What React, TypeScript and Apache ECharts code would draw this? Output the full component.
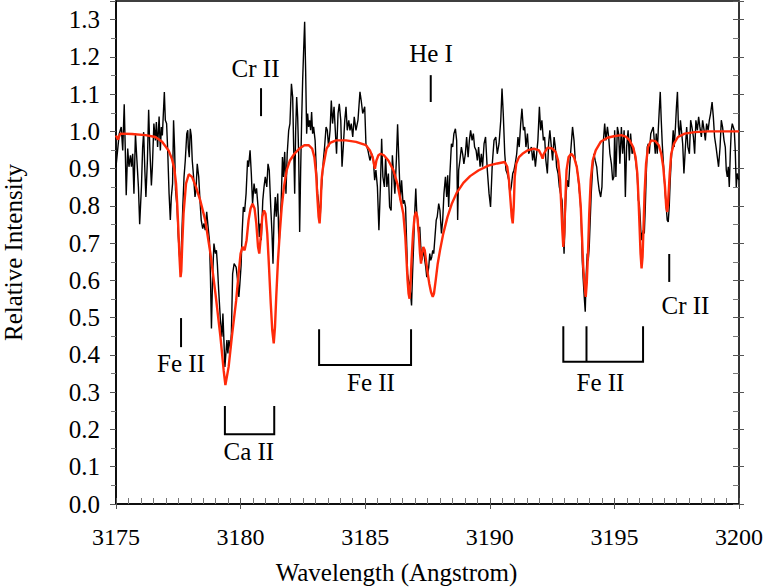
import React, { useEffect, useRef } from "react";
import * as echarts from "echarts";

// Observed spectrum (black)
const blackWl = [
  3175.00, 3175.13, 3175.21, 3175.27, 3175.33, 3175.37, 3175.41, 3175.47, 3175.52, 3175.58, 3175.62, 3175.67, 3175.72, 3175.78, 3175.84, 3175.90, 3175.95,
  3176.02, 3176.07, 3176.11, 3176.16, 3176.20, 3176.26, 3176.31, 3176.36, 3176.42, 3176.46, 3176.52, 3176.58, 3176.62, 3176.67, 3176.73, 3176.78, 3176.82, 3176.86, 3176.94, 3176.98,
  3177.03, 3177.07, 3177.13, 3177.18, 3177.22, 3177.27, 3177.31, 3177.35, 3177.39, 3177.45, 3177.50, 3177.54, 3177.58, 3177.62, 3177.68, 3177.73, 3177.78, 3177.84, 3177.88, 3177.90, 3177.94, 3177.98,
  3178.02, 3178.06, 3178.12, 3178.17, 3178.21, 3178.26, 3178.32, 3178.37, 3178.42, 3178.48, 3178.53, 3178.58, 3178.64, 3178.69, 3178.75, 3178.79, 3178.83, 3178.88, 3178.93, 3178.99,
  3179.03, 3179.07, 3179.12, 3179.19, 3179.25, 3179.29, 3179.33, 3179.37, 3179.41, 3179.45, 3179.49, 3179.53, 3179.59, 3179.63, 3179.68, 3179.74, 3179.82, 3179.88, 3179.93, 3179.97,
  3180.02, 3180.06, 3180.11, 3180.16, 3180.22, 3180.28, 3180.32, 3180.38, 3180.43, 3180.48, 3180.54, 3180.59, 3180.64, 3180.70, 3180.75, 3180.79, 3180.83, 3180.89, 3180.94, 3180.99,
  3181.05, 3181.10, 3181.15, 3181.21, 3181.26, 3181.30, 3181.34, 3181.39, 3181.43, 3181.49, 3181.54, 3181.58, 3181.63, 3181.68, 3181.72, 3181.77, 3181.82, 3181.87, 3181.93, 3181.98,
  3182.04, 3182.09, 3182.13, 3182.17, 3182.21, 3182.25, 3182.29, 3182.33, 3182.37, 3182.41, 3182.45, 3182.49, 3182.53, 3182.57, 3182.61, 3182.65, 3182.69, 3182.73, 3182.77, 3182.81, 3182.85, 3182.89, 3182.93, 3182.99,
  3183.04, 3183.09, 3183.15, 3183.19, 3183.23, 3183.27, 3183.32, 3183.37, 3183.43, 3183.48, 3183.53, 3183.59, 3183.64, 3183.69, 3183.75, 3183.80, 3183.85, 3183.91, 3183.96,
  3184.02, 3184.07, 3184.12, 3184.18, 3184.23, 3184.28, 3184.34, 3184.39, 3184.44, 3184.50, 3184.56, 3184.63, 3184.71, 3184.79, 3184.84, 3184.90, 3184.98,
  3185.03, 3185.11, 3185.19, 3185.26, 3185.33, 3185.38, 3185.43, 3185.49, 3185.55, 3185.61, 3185.66, 3185.71, 3185.77, 3185.82, 3185.87, 3185.93, 3185.98,
  3186.04, 3186.09, 3186.14, 3186.19, 3186.25, 3186.30, 3186.36, 3186.41, 3186.46, 3186.52, 3186.57, 3186.62, 3186.66, 3186.70, 3186.74, 3186.78, 3186.82, 3186.86, 3186.90, 3186.94, 3186.98,
  3187.03, 3187.07, 3187.11, 3187.15, 3187.19, 3187.23, 3187.27, 3187.31, 3187.35, 3187.39, 3187.43, 3187.47, 3187.51, 3187.55, 3187.59, 3187.63, 3187.67, 3187.71, 3187.75, 3187.80, 3187.85, 3187.89, 3187.95,
  3188.00, 3188.06, 3188.11, 3188.16, 3188.22, 3188.27, 3188.31, 3188.35, 3188.40, 3188.46, 3188.51, 3188.56, 3188.62, 3188.67, 3188.71, 3188.75, 3188.80, 3188.86, 3188.91, 3188.96,
  3189.02, 3189.07, 3189.13, 3189.18, 3189.23, 3189.29, 3189.34, 3189.39, 3189.45, 3189.50, 3189.55, 3189.61, 3189.66, 3189.71, 3189.77, 3189.83, 3189.90, 3189.97,
  3190.03, 3190.10, 3190.17, 3190.24, 3190.30, 3190.37, 3190.44, 3190.49, 3190.54, 3190.60, 3190.65, 3190.70, 3190.76, 3190.81, 3190.86, 3190.92, 3190.97,
  3191.02, 3191.08, 3191.13, 3191.18, 3191.24, 3191.29, 3191.35, 3191.40, 3191.45, 3191.51, 3191.56, 3191.61, 3191.67, 3191.72, 3191.77, 3191.83, 3191.88, 3191.93, 3191.99,
  3192.04, 3192.09, 3192.15, 3192.20, 3192.25, 3192.31, 3192.36, 3192.41, 3192.47, 3192.52, 3192.58, 3192.63, 3192.68, 3192.74, 3192.79, 3192.84, 3192.90, 3192.94, 3192.98,
  3193.02, 3193.06, 3193.11, 3193.16, 3193.22, 3193.27, 3193.32, 3193.38, 3193.43, 3193.49, 3193.54, 3193.59, 3193.63, 3193.67, 3193.71, 3193.75, 3193.79, 3193.83, 3193.87, 3193.91, 3193.95, 3193.99,
  3194.03, 3194.07, 3194.13, 3194.18, 3194.23, 3194.29, 3194.34, 3194.39, 3194.45, 3194.50, 3194.55, 3194.61, 3194.66, 3194.72, 3194.77, 3194.82, 3194.88, 3194.93, 3194.98,
  3195.01, 3195.06, 3195.12, 3195.17, 3195.22, 3195.28, 3195.33, 3195.39, 3195.44, 3195.49, 3195.55, 3195.60, 3195.65, 3195.71, 3195.76, 3195.81, 3195.87, 3195.92, 3195.96,
  3196.00, 3196.04, 3196.08, 3196.12, 3196.16, 3196.20, 3196.24, 3196.28, 3196.32, 3196.36, 3196.40, 3196.46, 3196.51, 3196.56, 3196.60, 3196.64, 3196.68, 3196.72, 3196.76, 3196.80, 3196.84, 3196.88, 3196.92, 3196.96,
  3197.00, 3197.04, 3197.08, 3197.12, 3197.16, 3197.20, 3197.24, 3197.28, 3197.32, 3197.36, 3197.40, 3197.45, 3197.49, 3197.53, 3197.57, 3197.61, 3197.65, 3197.69, 3197.74, 3197.79, 3197.85, 3197.90, 3197.95,
  3198.01, 3198.06, 3198.11, 3198.17, 3198.22, 3198.27, 3198.33, 3198.38, 3198.43, 3198.49, 3198.54, 3198.60, 3198.65, 3198.70, 3198.76, 3198.81, 3198.86, 3198.92, 3198.97,
  3199.02, 3199.08, 3199.13, 3199.18, 3199.24, 3199.29, 3199.34, 3199.40, 3199.45, 3199.49, 3199.53, 3199.57, 3199.61, 3199.65, 3199.69, 3199.73, 3199.77, 3199.81, 3199.85, 3199.89, 3199.93, 3199.99,
];
const blackI = [
  0.905, 0.994, 1.012, 0.949, 1.073, 0.958, 0.829, 0.954, 0.905, 0.936, 0.905, 0.940, 0.833, 0.994, 0.922, 0.851, 0.751,
  0.851, 0.958, 0.998, 0.891, 0.824, 0.922, 1.058, 0.949, 0.855, 0.905, 1.021, 0.976, 1.025, 0.958, 1.040, 0.949, 1.012, 0.989, 1.106, 1.030,
  1.021, 0.958, 0.833, 0.762, 0.824, 0.860, 1.030, 0.958, 0.842, 0.797, 0.717, 0.672, 0.645, 0.681, 0.797, 0.878, 0.922, 0.994, 1.003, 0.958, 0.931, 1.007,
  0.989, 0.922, 0.873, 0.824, 0.842, 0.913, 0.878, 0.815, 0.762, 0.739, 0.753, 0.735, 0.784, 0.748, 0.708, 0.609, 0.471, 0.618, 0.699, 0.672,
  0.681, 0.641, 0.574, 0.493, 0.449, 0.511, 0.440, 0.368, 0.404, 0.440, 0.404, 0.440, 0.417, 0.458, 0.618, 0.645, 0.636, 0.600, 0.556, 0.590,
  0.640, 0.726, 0.797, 0.784, 0.833, 0.922, 0.905, 0.949, 0.887, 0.806, 0.860, 0.833, 0.847, 0.797, 0.717, 0.753, 0.708, 0.815, 0.851, 0.878,
  0.851, 0.913, 0.896, 0.797, 0.726, 0.645, 0.762, 0.824, 0.771, 0.833, 0.690, 0.744, 0.815, 0.931, 0.878, 0.945, 0.833, 0.940, 1.003, 1.021,
  1.128, 1.092, 0.958, 0.833, 1.003, 1.092, 1.039, 0.940, 0.730, 0.896, 1.030, 1.137, 1.218, 1.294, 1.164, 0.994, 1.048, 1.012, 1.030, 1.003, 1.052, 0.994, 1.012, 0.976,
  0.896, 0.833, 0.797, 0.762, 0.833, 0.869, 0.922, 0.958, 1.012, 1.003, 0.958, 1.003, 1.083, 1.021, 1.066, 1.003, 0.940, 1.048, 1.074,
  1.030, 0.905, 0.958, 1.030, 1.066, 1.003, 1.030, 1.003, 1.021, 0.985, 1.039, 1.003, 1.030, 1.106, 1.083, 1.048, 1.066,
  0.967, 0.949, 0.922, 0.940, 0.922, 0.869, 0.896, 0.851, 0.735, 0.851, 0.980, 0.878, 0.851, 0.931, 0.851, 0.887, 0.797,
  0.788, 0.936, 0.887, 0.833, 0.922, 1.019, 0.905, 0.815, 0.869, 0.806, 0.815, 0.797, 0.708, 0.618, 0.601, 0.592, 0.565, 0.533, 0.618, 0.690, 0.771,
  0.847, 0.780, 0.762, 0.726, 0.744, 0.690, 0.654, 0.668, 0.681, 0.654, 0.636, 0.609, 0.618, 0.636, 0.672, 0.654, 0.663, 0.681, 0.672, 0.717, 0.762, 0.771, 0.806,
  0.788, 0.726, 0.762, 0.833, 0.878, 0.824, 0.882, 0.797, 0.887, 0.967, 0.958, 0.994, 1.007, 0.976, 0.762, 0.896, 0.922, 0.958, 0.940, 0.913,
  0.940, 0.985, 0.931, 0.976, 1.003, 0.976, 0.994, 0.958, 0.949, 0.922, 0.958, 0.905, 0.940, 0.905, 0.967, 0.985, 0.896, 0.833,
  0.797, 0.913, 0.976, 0.985, 0.940, 0.967, 1.030, 1.115, 1.048, 0.940, 0.896, 0.887, 0.869, 0.833, 0.851, 0.887, 0.896,
  0.913, 0.940, 0.985, 0.958, 1.021, 1.061, 1.003, 1.012, 0.958, 0.994, 0.940, 0.949, 0.958, 0.922, 0.949, 0.905, 0.940, 0.976, 1.066,
  1.003, 1.030, 0.976, 0.985, 0.922, 0.887, 0.967, 1.003, 0.958, 0.922, 0.985, 0.958, 0.905, 0.887, 0.851, 0.833, 0.815, 0.744, 0.672,
  0.762, 0.833, 0.869, 0.851, 0.922, 0.967, 1.012, 0.976, 0.922, 0.905, 0.878, 0.842, 0.815, 0.762, 0.654, 0.601, 0.556, 0.516, 0.618, 0.672, 0.654, 0.690,
  0.762, 0.833, 0.905, 0.940, 0.922, 0.905, 0.869, 0.842, 0.824, 0.851, 0.967, 1.021, 0.976, 1.012, 0.985, 0.940, 0.913, 0.869, 0.878,
  1.003, 0.878, 1.012, 0.994, 0.913, 1.012, 0.940, 1.003, 0.824, 0.958, 1.003, 0.922, 0.994, 0.940, 0.958, 0.940, 0.913, 0.878, 0.815,
  0.806, 0.762, 0.708, 0.726, 0.735, 0.726, 0.797, 0.887, 0.958, 0.967, 0.940, 0.994, 1.003, 1.012, 0.976, 0.940, 0.994, 0.940, 1.003, 1.057, 1.106, 1.030, 0.967, 0.922,
  0.878, 0.833, 0.797, 0.762, 0.757, 0.797, 0.869, 0.922, 0.958, 1.003, 0.958, 1.012, 1.066, 1.106, 1.012, 0.985, 1.030, 1.003, 0.967, 0.887, 0.958, 1.012, 0.958,
  0.940, 1.030, 1.012, 0.985, 0.940, 1.030, 1.003, 1.039, 1.012, 0.985, 1.030, 1.003, 0.976, 1.021, 1.003, 1.030, 1.048, 1.079, 1.039,
  0.985, 0.958, 0.931, 0.905, 0.958, 1.030, 1.012, 0.976, 0.958, 0.896, 0.878, 0.905, 0.851, 0.940, 1.003, 1.021, 1.012, 1.003, 0.949, 0.851, 0.887, 0.869,
];

// Synthetic model spectrum (red)
const redWl = [
  3175.00, 3175.08, 3175.17, 3175.64, 3176.18, 3176.58, 3176.85, 3177.11, 3177.25, 3177.34, 3177.41, 3177.46, 3177.51, 3177.55, 3177.59, 3177.62, 3177.66, 3177.71, 3177.81, 3177.92,
  3178.05, 3178.21, 3178.38, 3178.58, 3178.79, 3178.99, 3179.19, 3179.32, 3179.39, 3179.52, 3179.65, 3179.82, 3179.92,
  3180.00, 3180.08, 3180.16, 3180.24, 3180.32, 3180.40, 3180.48, 3180.56, 3180.63, 3180.70, 3180.75, 3180.81, 3180.87, 3180.94,
  3181.00, 3181.07, 3181.14, 3181.21, 3181.27, 3181.33, 3181.38, 3181.43, 3181.50, 3181.57, 3181.65, 3181.74, 3181.85, 3181.98,
  3182.16, 3182.36, 3182.56, 3182.73, 3182.87, 3182.96, 3183.03, 3183.08, 3183.13, 3183.17, 3183.21, 3183.25, 3183.29, 3183.36, 3183.45, 3183.59, 3183.83,
  3184.23, 3184.63, 3185.03, 3185.19, 3185.30, 3185.35, 3185.39, 3185.45, 3185.53, 3185.62, 3185.75, 3185.93,
  3186.13, 3186.29, 3186.42, 3186.53, 3186.61, 3186.66, 3186.70, 3186.74, 3186.78, 3186.82, 3186.86, 3186.92, 3186.98,
  3187.04, 3187.09, 3187.15, 3187.20, 3187.24, 3187.28, 3187.33, 3187.39, 3187.44, 3187.51, 3187.57, 3187.64, 3187.71, 3187.76, 3187.83, 3187.91,
  3188.00, 3188.13, 3188.30, 3188.47, 3188.67, 3188.94, 3189.21, 3189.54, 3189.94, 3190.30, 3190.60, 3190.70, 3190.77, 3190.82, 3190.88, 3190.92, 3190.96,
  3191.00, 3191.06, 3191.17, 3191.31, 3191.51, 3191.77, 3191.97, 3192.07, 3192.12, 3192.17, 3192.31, 3192.51, 3192.64, 3192.74, 3192.82, 3192.87, 3192.91, 3192.95, 3192.99,
  3193.03, 3193.08, 3193.16, 3193.27, 3193.38, 3193.49, 3193.58, 3193.65, 3193.70, 3193.75, 3193.81, 3193.85, 3193.89, 3193.94, 3193.99,
  3194.05, 3194.13, 3194.25, 3194.45, 3194.72, 3194.98, 3195.28, 3195.48, 3195.61, 3195.75, 3195.85, 3195.92, 3195.97,
  3196.01, 3196.05, 3196.09, 3196.13, 3196.17, 3196.21, 3196.27, 3196.35, 3196.48, 3196.64, 3196.78, 3196.88, 3196.96,
  3197.03, 3197.08, 3197.12, 3197.16, 3197.22, 3197.28, 3197.39, 3197.55, 3197.82, 3198.22, 3198.76, 3199.29, 3200.00,
];
const redI = [
  0.989, 0.978, 0.994, 0.993, 0.990, 0.985, 0.972, 0.949, 0.925, 0.900, 0.860, 0.800, 0.726, 0.660, 0.609, 0.625, 0.700, 0.779, 0.860, 0.885,
  0.878, 0.851, 0.815, 0.762, 0.672, 0.565, 0.449, 0.359, 0.319, 0.368, 0.449, 0.545, 0.618,
  0.672, 0.690, 0.681, 0.708, 0.762, 0.793, 0.806, 0.793, 0.753, 0.690, 0.672, 0.717, 0.771, 0.788,
  0.779, 0.726, 0.636, 0.538, 0.467, 0.431, 0.475, 0.556, 0.654, 0.726, 0.797, 0.851, 0.896, 0.922,
  0.940, 0.954, 0.963, 0.963, 0.954, 0.931, 0.887, 0.824, 0.771, 0.753, 0.797, 0.869, 0.896, 0.922, 0.954, 0.969, 0.976,
  0.976, 0.972, 0.963, 0.949, 0.931, 0.913, 0.900, 0.922, 0.936, 0.940, 0.936, 0.922,
  0.896, 0.860, 0.815, 0.779, 0.717, 0.654, 0.601, 0.565, 0.551, 0.592, 0.654, 0.726, 0.771,
  0.784, 0.771, 0.726, 0.672, 0.645, 0.672, 0.690, 0.681, 0.654, 0.618, 0.592, 0.569, 0.556, 0.565, 0.601, 0.645,
  0.680, 0.725, 0.770, 0.805, 0.835, 0.862, 0.880, 0.895, 0.908, 0.914, 0.918, 0.905, 0.869, 0.824, 0.771, 0.753, 0.797,
  0.878, 0.913, 0.931, 0.940, 0.949, 0.954, 0.949, 0.936, 0.927, 0.940, 0.956, 0.954, 0.945, 0.922, 0.869, 0.797, 0.735, 0.690, 0.726,
  0.815, 0.896, 0.931, 0.940, 0.931, 0.905, 0.860, 0.797, 0.717, 0.636, 0.583, 0.556, 0.592, 0.672, 0.779,
  0.869, 0.922, 0.949, 0.972, 0.983, 0.987, 0.990, 0.985, 0.976, 0.958, 0.931, 0.887, 0.815,
  0.744, 0.672, 0.632, 0.663, 0.744, 0.833, 0.913, 0.958, 0.976, 0.974, 0.963, 0.940, 0.905,
  0.851, 0.797, 0.784, 0.815, 0.887, 0.940, 0.967, 0.985, 0.994, 0.998, 1.000, 1.000, 1.000,
];

// Line identifications
const annoLabels = ["Cr II", "He I", "Fe II", "Ca II", "Fe II", "Fe II", "Cr II"];
const annoLabelWl = [3180.60, 3187.64, 3177.61, 3180.33, 3185.23, 3194.44, 3197.85];
const annoLabelI = [1.17, 1.21, 0.376, 0.142, 0.326, 0.327, 0.533];
const annoLineWl = [[3180.82], [3187.63], [3177.61], [3179.37, 3181.35], [3183.15, 3186.84], [3192.95, 3193.88, 3196.15], [3197.20]];
const annoTop = [1.116, 1.151, 0.499, 0.263, 0.469, 0.477, 0.671];
const annoBottom = [1.041, 1.079, 0.421, 0.187, 0.373, 0.382, 0.596];

const xMin = 3175, xMax = 3200, xStep = 5;
const yMin = 0, yMax = 1.35, yStep = 0.1;

const FONT = '"Liberation Serif", "Times New Roman", serif';

export default function App() {
  const ref = useRef<HTMLDivElement>(null);
  useEffect(() => {
    document.body.style.margin = "0";
    const chart = echarts.init(ref.current!, null, { renderer: "svg" });
    const black = blackWl.map((w, i) => [w, blackI[i]]);
    const red = redWl.map((w, i) => [w, redI[i]]);
    const annoData = annoLabels.map((_, i) => [annoLabelWl[i], annoLabelI[i]]);

    const baseX = { type: "value", min: xMin, max: xMax, interval: xStep, gridIndex: 0, splitLine: { show: false } };
    const baseY = { type: "value", min: yMin, max: yMax, interval: yStep, gridIndex: 0, splitLine: { show: false } };

    chart.setOption({
      animation: false,
      backgroundColor: "#fff",
      grid: { left: 116, right: 24, top: 1, bottom: 83, show: true, borderColor: "#000", borderWidth: 1.5, outerBoundsMode: "none", containLabel: false },
      xAxis: [
        {
          ...baseX,
          position: "bottom",
          axisLine: { show: true, lineStyle: { color: "#000", width: 1.5 } },
          axisTick: { show: true, inside: true, length: 6, lineStyle: { color: "#555", width: 1 } },
          minorTick: { show: true, splitNumber: 10, length: 6, lineStyle: { color: "#777", width: 1 } },
          axisLabel: { show: true, margin: 21, color: "#000", fontSize: 24, fontFamily: FONT, formatter: (v: number) => String(Math.round(v)) },
          name: "Wavelength (Angstrom)",
          nameLocation: "middle",
          nameGap: 56,
          nameTextStyle: { color: "#000", fontSize: 25, fontFamily: FONT, padding: [0, 62, 0, 0] },
        },
        {
          ...baseX,
          position: "bottom",
          offset: 0,
          axisLine: { show: false },
          axisTick: { show: true, inside: false, length: 5, lineStyle: { color: "#555", width: 1 } },
          axisLabel: { show: false },
        },
      ],
      yAxis: [
        {
          ...baseY,
          position: "left",
          axisLine: { show: true, lineStyle: { color: "#000", width: 1.5 } },
          axisTick: { show: true, inside: false, length: 6, lineStyle: { color: "#555", width: 1 } },
          minorTick: { show: true, splitNumber: 2, length: 5, lineStyle: { color: "#777", width: 1 } },
          axisLabel: { show: true, margin: 16, color: "#000", fontSize: 25, fontFamily: FONT, showMaxLabel: false, formatter: (v: number) => v.toFixed(1) },
          name: "Relative Intensity",
          nameLocation: "middle",
          nameGap: 90,
          nameTextStyle: { color: "#000", fontSize: 25, fontFamily: FONT },
        },
        {
          ...baseY,
          position: "right",
          axisLine: { show: true, lineStyle: { color: "#333", width: 1.5 } },
          axisTick: { show: true, inside: true, length: 6, lineStyle: { color: "#555", width: 1 } },
          minorTick: { show: true, splitNumber: 2, length: 6, lineStyle: { color: "#777", width: 1 } },
          axisLabel: { show: false },
        },
        {
          ...baseY,
          position: "right",
          offset: 0,
          axisLine: { show: false },
          axisTick: { show: true, inside: false, length: 5, lineStyle: { color: "#555", width: 1 } },
          axisLabel: { show: false },
        },
      ],
      series: [
        {
          name: "Observed",
          type: "line",
          xAxisIndex: 0,
          yAxisIndex: 0,
          data: black,
          showSymbol: false,
          symbol: "none",
          lineStyle: { color: "#000", width: 1.4 },
          z: 2,
        },
        {
          name: "Model",
          type: "line",
          xAxisIndex: 0,
          yAxisIndex: 0,
          data: red,
          showSymbol: false,
          symbol: "none",
          lineStyle: { color: "#ff2a0a", width: 2.4 },
          z: 3,
        },
        {
          name: "Identifications",
          type: "custom",
          xAxisIndex: 0,
          yAxisIndex: 0,
          clip: false,
          data: annoData,
          z: 4,
          renderItem: (params: any, api: any) => {
            const i = params.dataIndex;
            const wls = annoLineWl[i];
            const children: any[] = [];
            const lineStyle = { stroke: "#000", lineWidth: 2, fill: null };
            if (wls.length > 1) {
              const a = api.coord([wls[0], annoTop[i]]);
              const b = api.coord([wls[0], annoBottom[i]]);
              const c = api.coord([wls[wls.length - 1], annoBottom[i]]);
              const d = api.coord([wls[wls.length - 1], annoTop[i]]);
              children.push({ type: "polyline", shape: { points: [a, b, c, d] }, style: lineStyle });
              for (let k = 1; k < wls.length - 1; k++) {
                const p1 = api.coord([wls[k], annoTop[i]]);
                const p2 = api.coord([wls[k], annoBottom[i]]);
                children.push({ type: "line", shape: { x1: p1[0], y1: p1[1], x2: p2[0], y2: p2[1] }, style: lineStyle });
              }
            } else {
              const p1 = api.coord([wls[0], annoTop[i]]);
              const p2 = api.coord([wls[0], annoBottom[i]]);
              children.push({ type: "line", shape: { x1: p1[0], y1: p1[1], x2: p2[0], y2: p2[1] }, style: lineStyle });
            }
            const t = api.coord([annoLabelWl[i], annoLabelI[i]]);
            children.push({
              type: "text",
              x: t[0],
              y: t[1],
              style: { text: annoLabels[i], fill: "#000", fontSize: 25, fontFamily: FONT, align: "center", verticalAlign: "middle" },
            });
            return { type: "group", children };
          },
        },
      ],
    });
    return () => chart.dispose();
  }, []);
  return <div ref={ref} style={{ width: 763, height: 587 }} />;
}
